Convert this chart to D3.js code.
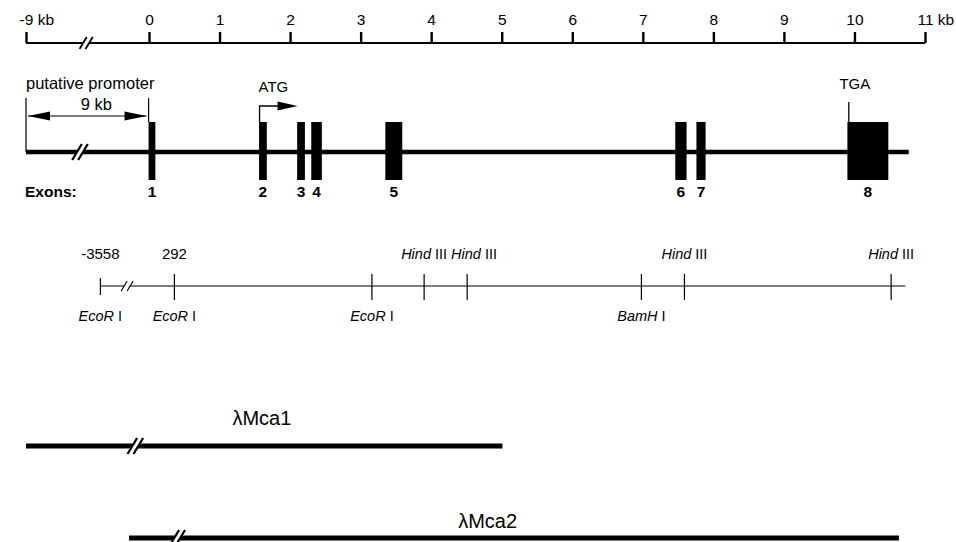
<!DOCTYPE html>
<html><head><meta charset="utf-8">
<script src="https://cdn.jsdelivr.net/npm/d3@7"></script>
<style>
body{margin:0;background:#fff;}
svg{display:block;font-family:"Liberation Sans",Arial,sans-serif;}
</style></head>
<body><svg id="c" width="956" height="542"></svg>
<script>
// ---- data (kb) ----
const axisTicks = [-9, 0, 1, 2, 3, 4, 5, 6, 7, 8, 9, 10, 11];
const axisBreakKb = -4.6;
const geneExtent = [-9, 10.77];
const geneBreakKb = -5.05;
const exonNames = ["1", "2", "3", "4", "5", "6", "7", "8"];
const exonStart = [-0.03, 1.56, 2.10, 2.30, 3.35, 7.46, 7.76, 9.90];
const exonEnd   = [0.09, 1.67, 2.21, 2.45, 3.59, 7.62, 7.89, 10.48];
const atgKb = 1.56;
const tgaKb = 9.92;
const promoterSpan = [-9, -0.03];
const mapExtent = [-3.558, 10.72];
const mapBreakKb = -1.6;
const siteKb     = [-3.558, 0.36, 3.16, 3.90, 4.51, 6.98, 7.59, 10.52];
const siteEnzyme = ["EcoR I", "EcoR I", "EcoR I", "Hind III", "Hind III", "BamH I", "Hind III", "Hind III"];
const siteCoord  = ["-3558", "292", "", "", "", "", "", ""];
const cloneNames = ["λMca1", "λMca2"];
const cloneStart = [-9, -1.46];
const cloneEnd   = [5.01, 10.63];
const cloneBreak = [-1.0, 0.40];
const cloneLabelKb = [1.6, 4.8];

// ---- scale (broken axis) ----
const x = d3.scaleLinear().domain([-9, 0, 11]).range([26, 149, 925]);
const svg = d3.select("#c");

function breakMark(g, cx, cy, hh, sw, gapFill) {
  const dx = hh * 0.6, sep = 6;
  if (gapFill) {
    g.append("path")
      .attr("d", `M${cx - sep/2 - dx},${cy + gapFill} L${cx - sep/2 + dx},${cy - gapFill} L${cx + sep/2 + dx},${cy - gapFill} L${cx + sep/2 - dx},${cy + gapFill}Z`)
      .attr("fill", "#fff");
  }
  [-sep/2, sep/2].forEach(o => {
    g.append("line")
      .attr("x1", cx + o - dx).attr("y1", cy + hh)
      .attr("x2", cx + o + dx).attr("y2", cy - hh)
      .attr("stroke", "#000").attr("stroke-width", sw);
  });
}

// ---- top scale axis ----
const axisY = 43;
const axG = svg.append("g").attr("transform", `translate(0,${axisY})`)
  .call(d3.axisTop(x).tickValues(axisTicks).tickSize(11).tickSizeOuter(0).tickPadding(7).tickFormat(d => d));
axG.select(".domain").attr("stroke-width", 2.2).attr("d", `M${x(-9)},0H${x(11)}`);
axG.selectAll(".tick line").attr("stroke-width", 2.4);
axG.selectAll(".tick text").attr("font-size", 15.5).attr("fill", "#000")
  .each(function(d) {
    if (d === -9 || d === 11) {
      const t = d3.select(this);
      const w = this.getComputedTextLength();
      t.attr("text-anchor", "start").attr("x", -w / 2);
      t.append("tspan").text(" kb");
    }
  });
breakMark(svg.append("g"), x(axisBreakKb), axisY, 6, 1.8, 3);

// ---- gene structure ----
const geneY = 152;
svg.append("line").attr("x1", x(geneExtent[0])).attr("x2", x(geneExtent[1]))
  .attr("y1", geneY).attr("y2", geneY).attr("stroke", "#000").attr("stroke-width", 4.5);
breakMark(svg.append("g"), x(geneBreakKb), geneY, 8, 2.2, 4);

const exonTop = 122, exonBot = 180;
svg.append("g").selectAll("rect").data(exonNames).join("rect")
  .attr("x", (d, i) => x(exonStart[i]))
  .attr("width", (d, i) => x(exonEnd[i]) - x(exonStart[i]))
  .attr("y", exonTop).attr("height", exonBot - exonTop).attr("fill", "#000");
svg.append("g").selectAll("text").data(exonNames).join("text")
  .attr("x", (d, i) => (x(exonStart[i]) + x(exonEnd[i])) / 2)
  .attr("y", 197).attr("text-anchor", "middle")
  .attr("font-size", 15.5).attr("font-weight", "bold").text(d => d);
svg.append("text").attr("x", 25).attr("y", 197).attr("font-size", 15.5)
  .attr("font-weight", "bold").text("Exons:");

// promoter bracket
const pL = x(promoterSpan[0]), pR = x(promoterSpan[1]);
svg.append("line").attr("x1", pL).attr("x2", pL).attr("y1", 98).attr("y2", geneY)
  .attr("stroke", "#000").attr("stroke-width", 1.2);
svg.append("line").attr("x1", pR).attr("x2", pR).attr("y1", 98).attr("y2", exonTop)
  .attr("stroke", "#000").attr("stroke-width", 1.2);
const aY = 116;
svg.append("line").attr("x1", pL + 2).attr("x2", pR - 2).attr("y1", aY).attr("y2", aY)
  .attr("stroke", "#000").attr("stroke-width", 1.2);
svg.append("path").attr("d", `M${pL + 2},${aY} L${pL + 24},${aY - 4.5} L${pL + 24},${aY + 4.5}Z`);
svg.append("path").attr("d", `M${pR - 2},${aY} L${pR - 24},${aY - 4.5} L${pR - 24},${aY + 4.5}Z`);
svg.append("text").attr("x", 26).attr("y", 89).attr("font-size", 16.5).text("putative promoter");
svg.append("text").attr("x", (pL + pR) / 2 + 9).attr("y", 110).attr("text-anchor", "middle")
  .attr("font-size", 16.5).text("9 kb");

// ATG arrow
const atgX = x(atgKb) + 0.5, atgY = 106;
svg.append("path").attr("d", `M${atgX},${exonTop} V${atgY} H${atgX + 20}`)
  .attr("fill", "none").attr("stroke", "#000").attr("stroke-width", 1.3);
svg.append("path").attr("d", `M${atgX + 38},${atgY} L${atgX + 18},${atgY - 4.5} L${atgX + 18},${atgY + 4.5}Z`);
svg.append("text").attr("x", atgX - 1).attr("y", 92).attr("font-size", 15).text("ATG");

// TGA
const tgaX = x(tgaKb);
svg.append("line").attr("x1", tgaX).attr("x2", tgaX).attr("y1", 102).attr("y2", exonTop)
  .attr("stroke", "#000").attr("stroke-width", 1.3);
svg.append("text").attr("x", tgaX + 6).attr("y", 89).attr("text-anchor", "middle")
  .attr("font-size", 15).text("TGA");

// ---- restriction map ----
const mapY = 286;
svg.append("line").attr("x1", x(mapExtent[0])).attr("x2", x(mapExtent[1]))
  .attr("y1", mapY).attr("y2", mapY).attr("stroke", "#000").attr("stroke-width", 1.2);
breakMark(svg.append("g"), x(mapBreakKb), mapY, 5, 1.2, 2);
svg.append("g").selectAll("line").data(siteKb).join("line")
  .attr("x1", d => x(d)).attr("x2", d => x(d))
  .attr("y1", (d, i) => i === 0 ? 278 : 274)
  .attr("y2", (d, i) => i === 0 ? 295 : 300)
  .attr("stroke", "#000").attr("stroke-width", 1.2);

function enzymeLabel(sel, name) {
  const parts = name.split(" ");
  sel.append("tspan").attr("font-style", "italic").text(parts[0]);
  sel.append("tspan").text(" " + parts[1]);
}
let prevRight = -Infinity;
siteKb.forEach((d, i) => {
  const isHind = siteEnzyme[i].startsWith("Hind");
  if (siteCoord[i]) {
    svg.append("text").attr("x", x(d)).attr("y", 259).attr("text-anchor", "middle")
      .attr("font-size", 15).text(siteCoord[i]);
  }
  const t = svg.append("text").attr("font-size", 14.5).attr("text-anchor", "start")
    .attr("y", isHind ? 259 : 321);
  enzymeLabel(t, siteEnzyme[i]);
  const w = t.node().getComputedTextLength();
  let left = x(d) - w / 2;
  if (isHind) {
    if (left < prevRight + 4) left = prevRight + 4;
    prevRight = left + w;
  }
  t.attr("x", left);
});

// ---- clones ----
const cloneY = [446, 538];
const cloneLabelY = [425, 528];
cloneNames.forEach((n, i) => {
  svg.append("line").attr("x1", x(cloneStart[i])).attr("x2", x(cloneEnd[i]))
    .attr("y1", cloneY[i]).attr("y2", cloneY[i]).attr("stroke", "#000").attr("stroke-width", 5);
  breakMark(svg.append("g"), x(cloneBreak[i]), cloneY[i], 8, 2.2, 4);
  svg.append("text").attr("x", x(cloneLabelKb[i])).attr("y", cloneLabelY[i])
    .attr("text-anchor", "middle").attr("font-size", 20).text(n);
});
</script></body></html>
